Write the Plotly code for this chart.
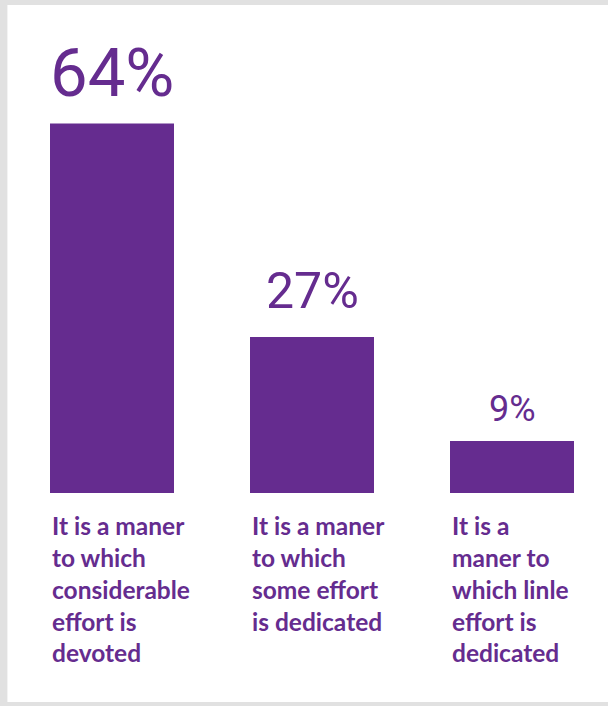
import plotly.graph_objects as go

categories = [
    "It is a maner<br>to which<br>considerable<br>effort is<br>devoted",
    "It is a maner<br>to which<br>some effort<br>is dedicated",
    "It is a<br>maner to<br>which linle<br>effort is<br>dedicated",
]
values = [64, 27, 9]
value_labels = ["64%", "27%", "9%"]

# styling (not data)
PURPLE = "#652C8F"
label_sizes = [67, 50, 36]
label_yshift = [9, 15, 9]
BAR_W = 0.62

positions = list(range(len(values)))

fig = go.Figure()
fig.add_trace(go.Bar(
    x=positions, y=values, width=BAR_W,
    marker=dict(color=PURPLE, line=dict(width=0)),
    hoverinfo="skip",
))

annotations = []
for i, (v, lab) in enumerate(zip(values, value_labels)):
    annotations.append(dict(
        x=positions[i], y=v, xref="x", yref="y", text=lab, showarrow=False,
        xanchor="center", yanchor="bottom", yshift=label_yshift[i],
        font=dict(family="Roboto, sans-serif", size=label_sizes[i], color=PURPLE),
    ))
    annotations.append(dict(
        x=positions[i] - BAR_W / 2, y=0, xref="x", yref="y", text=categories[i],
        showarrow=False, xanchor="left", yanchor="top", align="left",
        xshift=0, yshift=-16,
        font=dict(family="Lato, sans-serif", size=24.5, color=PURPLE, weight=700),
    ))

# white panel on grey frame
shapes = [dict(type="rect", xref="paper", yref="paper",
               x0=-0.001, x1=1.01, y0=(493 - 702) / 462, y1=(493 - 5) / 462,
               fillcolor="white", line=dict(width=0), layer="below")]

fig.update_layout(
    width=608, height=706,
    margin=dict(l=8, r=0, t=31, b=213),
    paper_bgcolor="#E1E1E1", plot_bgcolor="rgba(0,0,0,0)",
    showlegend=False,
    xaxis=dict(range=[-0.52, 2.48], visible=False, fixedrange=True),
    yaxis=dict(range=[0, 80], visible=False, fixedrange=True),
    annotations=annotations, shapes=shapes,
)

fig.write_html("out.html", config={"displayModeBar": False},
               post_script="document.body.style.margin='0';")
